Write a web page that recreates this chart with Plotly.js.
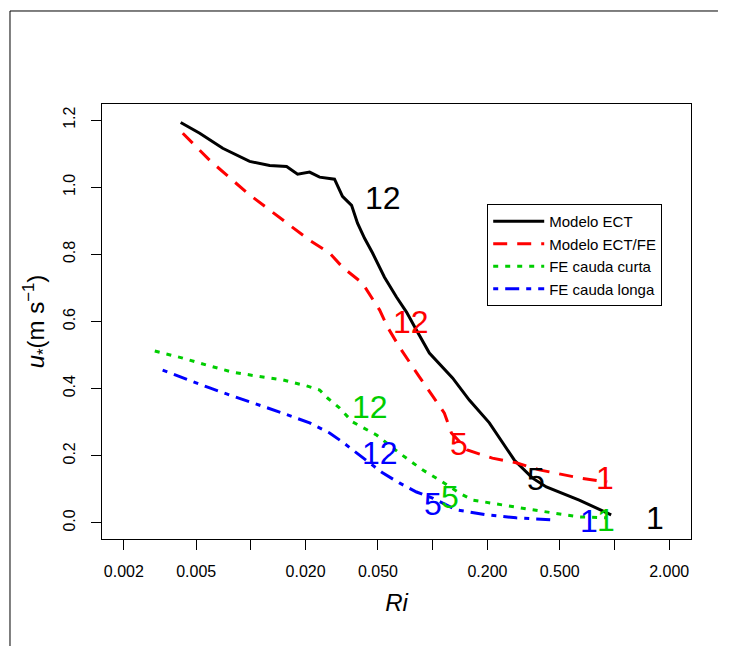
<!DOCTYPE html>
<html>
<head>
<meta charset="utf-8">
<script src="https://cdn.plot.ly/plotly-3.0.1.min.js"></script>
<style>html,body{margin:0;padding:0;background:#fff;}#chart{width:731px;height:646px;}</style>
</head>
<body>
<div id="chart"></div>
<script>
// ---- data ----
const ri_ect = [0.00411,0.00523,0.0070,0.00984,0.01268,0.01572,0.01807,0.02104,0.02388,0.02884,0.0319,0.0358,0.0386,0.0422,0.0467,0.0543,0.0632,0.0718,0.0815,0.0959,0.1286,0.159,0.205,0.281,0.353,0.422,0.640,0.959];
const u_ect  = [1.193,1.161,1.116,1.077,1.065,1.062,1.039,1.045,1.030,1.024,0.973,0.946,0.893,0.848,0.804,0.732,0.673,0.628,0.574,0.506,0.432,0.366,0.298,0.1875,0.134,0.107,0.068,0.024];

const ri_ectfe = [0.00422,0.00594,0.00959,0.01268,0.01633,0.02104,0.0271,0.0319,0.0411,0.0511,0.0565,0.0656,0.0845,0.116,0.1268,0.155,0.213,0.288,0.386,0.640,0.912];
const u_ectfe  = [1.161,1.080,0.982,0.932,0.887,0.842,0.804,0.762,0.714,0.634,0.583,0.524,0.435,0.327,0.268,0.217,0.193,0.179,0.158,0.134,0.122];

const ri_curta = [0.00296,0.00422,0.00571,0.00794,0.01076,0.01497,0.02025,0.02388,0.0264,0.0308,0.0362,0.0491,0.0656,0.0879,0.1133,0.140,0.1657,0.233,0.353,0.640,0.902];
const u_curta  = [0.512,0.491,0.470,0.449,0.4375,0.426,0.408,0.396,0.372,0.342,0.301,0.262,0.208,0.158,0.122,0.089,0.068,0.054,0.039,0.018,0.015];

const ri_longa = [0.00327,0.00422,0.00594,0.00764,0.01162,0.01497,0.02104,0.02388,0.0271,0.0319,0.0381,0.0530,0.0656,0.0815,0.0998,0.135,0.198,0.288,0.455];
const u_longa  = [0.455,0.432,0.402,0.381,0.348,0.327,0.298,0.283,0.268,0.241,0.208,0.149,0.119,0.092,0.074,0.039,0.024,0.015,0.009];

const series_names = ['Modelo ECT','Modelo ECT/FE','FE cauda curta','FE cauda longa'];

// month labels on the curves: text, Ri, u*, series index
const lbl_text   = ['12','5','1','12','5','1','12','5','1','12','5','1'];
const lbl_ri     = [0.0530,0.372,1.675,0.0763,0.1387,0.889,0.0450,0.1253,0.902,0.0511,0.101,0.726];
const lbl_u      = [0.967,0.131,0.015,0.598,0.235,0.134,0.345,0.077,0.009,0.208,0.057,0.006];
const lbl_series = [0,0,0,1,1,1,2,2,2,3,3,3];

const x_tickvals = [0.002,0.005,0.02,0.05,0.2,0.5,2];
const x_ticktext = ['0.002','0.005','0.020','0.050','0.200','0.500','2.000'];
const x_unlabeled = [0.01,0.1,1];
const y_tickvals = [0,0.2,0.4,0.6,0.8,1.0,1.2];
const y_ticktext = ['0.0','0.2','0.4','0.6','0.8','1.0','1.2'];

// ---- styles ----
const colors = ['#000000','#FF0000','#00CD00','#0000FF'];
const dashes = ['solid','14px,10px','5px,7px','5px,7px,14px,7px'];
const FONT = 'Liberation Sans, Arial, Helvetica, sans-serif';

const xs = [ri_ect, ri_ectfe, ri_curta, ri_longa];
const ys = [u_ect, u_ectfe, u_curta, u_longa];
const traces = xs.map((x,i)=>({
  x: x, y: ys[i], type:'scatter', mode:'lines', name: series_names[i],
  line:{color:colors[i], width:3, dash:dashes[i]}
}));

const annotations = lbl_text.map((t,i)=>({
  x: Math.log10(lbl_ri[i]), y: lbl_u[i], xref:'x', yref:'y',
  text: t, showarrow:false, xanchor:'center', yanchor:'middle',
  font:{family:FONT, size:32, color:colors[lbl_series[i]]}
}));

const axisCommon = {
  showline:true, mirror:true, linecolor:'#000', linewidth:1,
  ticks:'outside', ticklen:10, tickwidth:1, tickcolor:'#000',
  showgrid:false, zeroline:false,
  tickfont:{family:FONT, size:16, color:'#000'}
};

const layout = {
  width:731, height:646,
  margin:{l:102, r:40, t:104, b:107},
  paper_bgcolor:'#fff', plot_bgcolor:'#fff',
  font:{family:FONT, color:'#000'},
  showlegend:true,
  legend:{x:0.654, y:0.770, xanchor:'left', yanchor:'top',
          bordercolor:'#000', borderwidth:1, bgcolor:'#fff',
          itemwidth:51,
          font:{family:FONT, size:15, color:'#000'}, tracegroupgap:0},
  xaxis:Object.assign({}, axisCommon, {
    type:'log', range:[-2.819, 0.421],
    tickmode:'array', tickvals:x_tickvals, ticktext:x_ticktext,
    minor:{tickmode:'array', tickvals:x_unlabeled, ticks:'outside', ticklen:10, tickwidth:1, tickcolor:'#000', showgrid:false},
    ticklabelstandoff:8,
    title:{text:'<i>Ri</i>', font:{family:FONT, size:24, color:'#000'}, standoff:14}
  }),
  yaxis:Object.assign({}, axisCommon, {
    range:[-0.048, 1.248],
    tickmode:'array', tickvals:y_tickvals, ticktext:y_ticktext, tickangle:-90,
    ticklabelstandoff:10,
    title:{text:'<i>u</i><sub>*</sub>(m s<sup>−1</sup>)', font:{family:FONT, size:24, color:'#000'}, standoff:9}
  }),
  annotations: annotations,
  shapes:[
    {type:'line', xref:'paper', yref:'paper', x0:-0.1562, x1:1.0458, y0:1.2138, y1:1.2138, line:{color:'#000', width:1}},
    {type:'line', xref:'paper', yref:'paper', x0:-0.1562, x1:-0.1562, y0:1.2138, y1:-0.246, line:{color:'#000', width:1}}
  ]
};

Plotly.newPlot('chart', traces, layout, {staticPlot:true, displayModeBar:false});
</script>
</body>
</html>
